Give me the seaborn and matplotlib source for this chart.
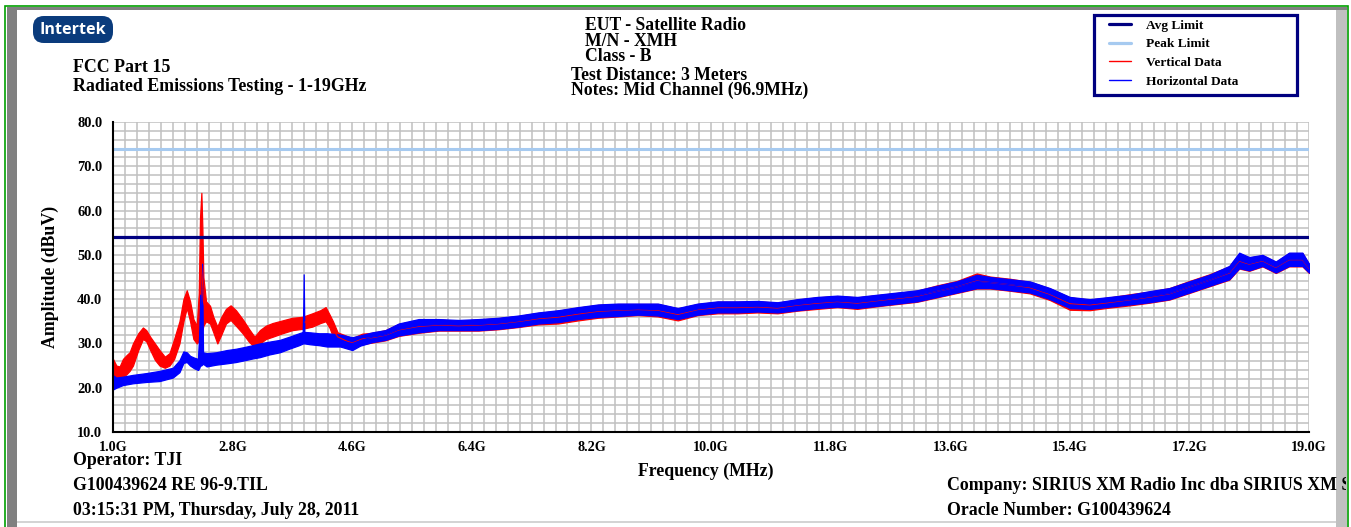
import numpy as np
import pandas as pd
import matplotlib
matplotlib.use("Agg")
import matplotlib.pyplot as plt
import seaborn as sns
from matplotlib.lines import Line2D
from matplotlib.patches import Rectangle, FancyBboxPatch
from matplotlib.ticker import FixedLocator, MultipleLocator
from matplotlib.transforms import Bbox

# ---------------------------------------------------------------- data
avg_limit_dbuv = 54.0
peak_limit_dbuv = 74.0
limit_span_ghz = [1.0, 19.0]

x_ticks_ghz = [1.0, 2.8, 4.6, 6.4, 8.2, 10.0, 11.8, 13.6, 15.4, 17.2, 19.0]
x_tick_labels = ["1.0G", "2.8G", "4.6G", "6.4G", "8.2G", "10.0G",
                 "11.8G", "13.6G", "15.4G", "17.2G", "19.0G"]
y_ticks_dbuv = [10, 20, 30, 40, 50, 60, 70, 80]
y_tick_labels = ["10.0", "20.0", "30.0", "40.0", "50.0", "60.0", "70.0", "80.0"]

# Vertical polarisation sweep: min / max envelope per frequency (GHz, dBuV)
vert_freq = [1.00, 1.05, 1.10, 1.15, 1.20, 1.25, 1.30, 1.38, 1.45, 1.50,
             1.56, 1.63, 1.70, 1.78, 1.85, 1.92, 2.00, 2.06, 2.11, 2.16,
             2.21, 2.26, 2.29, 2.31, 2.33, 2.345, 2.36, 2.40, 2.46, 2.51,
             2.57, 2.63, 2.70, 2.77, 2.85, 2.95, 3.05, 3.13, 3.21, 3.30,
             3.40, 3.55, 3.70, 3.85, 4.00, 4.12, 4.20, 4.26, 4.31, 4.38,
             4.50, 4.60, 4.75, 4.90, 5.10, 5.30, 5.60, 5.90, 6.20, 6.50,
             6.80, 7.10, 7.40, 7.70, 8.00, 8.30, 8.60, 8.90, 9.20, 9.50,
             9.80, 10.10, 10.40, 10.70, 11.00, 11.30, 11.60, 11.90, 12.20, 12.50,
             12.80, 13.10, 13.40, 13.70, 14.00, 14.20, 14.50, 14.80, 15.10, 15.40,
             15.70, 16.00, 16.30, 16.60, 16.90, 17.20, 17.50, 17.80, 17.95, 18.10,
             18.30, 18.50, 18.70, 18.90, 19.00]
vert_lo = [22.4, 22.5, 22.2, 22.5, 23.0, 23.8, 25.0, 28.5, 31.0, 30.5,
           28.5, 26.3, 25.0, 24.5, 25.0, 26.5, 30.0, 35.0, 38.0, 35.0,
           31.0, 30.0, 30.5, 31.0, 32.0, 33.0, 34.0, 35.0, 34.5, 32.5,
           30.0, 32.0, 34.5, 35.3, 34.0, 32.3, 30.3, 29.2, 30.0, 31.0,
           31.5, 32.3, 33.0, 33.3, 33.8, 34.6, 35.0, 33.5, 31.5, 30.5,
           29.5, 29.0, 29.8, 30.2, 30.7, 31.7, 32.4, 32.9, 32.9, 32.9,
           33.2, 33.7, 34.3, 34.5, 35.2, 35.8, 36.1, 36.4, 36.1, 35.2,
           36.4, 36.8, 36.8, 37.0, 36.8, 37.4, 37.8, 38.2, 37.8, 38.4,
           38.9, 39.4, 40.4, 41.4, 42.4, 42.4, 41.9, 41.3, 39.8, 37.6,
           37.5, 38.1, 38.6, 39.2, 39.9, 41.4, 42.9, 44.4, 46.9, 46.4,
           47.4, 45.9, 47.4, 47.4, 45.9]
vert_hi = [26.5, 25.0, 24.8, 26.5, 27.3, 28.0, 30.0, 32.3, 33.6, 33.0,
           31.5, 30.0, 28.5, 27.0, 27.8, 31.0, 35.0, 40.0, 42.0, 39.5,
           35.5, 34.0, 41.0, 58.5, 64.0, 56.0, 45.0, 39.5, 38.5, 36.0,
           33.8, 36.0, 37.8, 38.6, 37.5, 35.5, 33.2, 31.5, 33.0, 34.0,
           34.6, 35.2, 35.8, 36.0, 36.8, 37.5, 38.2, 36.5, 35.0, 32.5,
           31.8, 31.2, 32.2, 32.4, 33.0, 34.4, 35.3, 35.4, 35.1, 35.4,
           35.7, 36.2, 36.9, 37.4, 38.1, 38.7, 38.9, 38.9, 38.9, 37.9,
           38.9, 39.4, 39.4, 39.5, 39.2, 39.9, 40.4, 40.7, 40.4, 40.9,
           41.4, 41.9, 43.1, 44.1, 45.8, 45.1, 44.6, 43.9, 42.4, 40.4,
           39.9, 40.4, 41.1, 41.7, 42.5, 44.1, 45.6, 47.4, 50.3, 49.4,
           49.9, 48.4, 50.4, 50.4, 47.9]

# Horizontal polarisation sweep: min / max envelope per frequency (GHz, dBuV)
horiz_freq = [1.00, 1.05, 1.15, 1.30, 1.50, 1.70, 1.90, 2.00, 2.06, 2.11,
              2.16, 2.22, 2.28, 2.30, 2.31, 2.325, 2.34, 2.355, 2.41, 2.55,
              2.71, 2.85, 2.98, 3.10, 3.21, 3.35, 3.51, 3.65, 3.80, 3.86,
              3.87, 3.88, 3.97, 4.10, 4.22, 4.42, 4.60, 4.72, 4.90, 5.10,
              5.30, 5.60, 5.90, 6.20, 6.50, 6.80, 7.10, 7.40, 7.70, 8.00,
              8.30, 8.60, 8.90, 9.20, 9.50, 9.80, 10.10, 10.40, 10.70, 11.00,
              11.30, 11.60, 11.90, 12.20, 12.50, 12.80, 13.10, 13.40, 13.70, 14.00,
              14.20, 14.50, 14.80, 15.10, 15.40, 15.70, 16.00, 16.30, 16.60, 16.90,
              17.20, 17.50, 17.80, 17.95, 18.10, 18.30, 18.50, 18.70, 18.90, 19.00]
horiz_lo = [19.6, 20.0, 20.6, 21.0, 21.3, 21.5, 22.3, 23.5, 25.6, 25.8,
            25.0, 24.4, 24.0, 24.5, 25.0, 25.0, 25.2, 25.4, 24.8, 25.2,
            25.5, 25.8, 26.2, 26.6, 26.9, 27.5, 28.0, 28.8, 29.6, 30.0,
            30.0, 30.0, 29.8, 29.6, 29.3, 29.3, 28.5, 29.5, 30.3, 30.8,
            31.8, 32.5, 33.0, 33.0, 33.0, 33.3, 33.8, 34.5, 34.8, 35.5,
            36.0, 36.2, 36.5, 36.3, 35.5, 36.5, 37.0, 37.0, 37.2, 37.0,
            37.5, 38.0, 38.3, 38.0, 38.5, 39.0, 39.5, 40.5, 41.5, 42.5,
            42.5, 42.0, 41.5, 40.0, 38.0, 37.8, 38.3, 38.8, 39.3, 40.0,
            41.5, 43.0, 44.5, 47.0, 46.5, 47.5, 46.0, 47.5, 47.5, 46.0]
horiz_hi = [22.8, 22.3, 22.5, 22.9, 23.3, 23.8, 24.5, 26.2, 28.2, 28.0,
            27.2, 26.8, 26.5, 33.0, 41.0, 30.0, 48.0, 28.0, 27.8, 28.0,
            28.5, 28.8, 29.2, 29.6, 30.0, 30.4, 30.8, 31.5, 32.3, 32.6,
            45.6, 32.6, 32.5, 32.3, 32.3, 32.0, 31.4, 31.8, 32.5, 33.0,
            34.5, 35.5, 35.5, 35.3, 35.5, 35.8, 36.3, 37.0, 37.5, 38.2,
            38.8, 39.0, 39.0, 39.0, 38.0, 39.0, 39.5, 39.5, 39.6, 39.3,
            40.0, 40.5, 40.8, 40.5, 41.0, 41.5, 42.0, 43.0, 44.0, 45.5,
            45.0, 44.5, 44.0, 42.5, 40.5, 40.0, 40.5, 41.0, 41.8, 42.5,
            44.0, 45.5, 47.5, 50.5, 49.5, 50.0, 48.5, 50.5, 50.5, 48.0]

legend_labels = ["Avg Limit", "Peak Limit", "Vertical Data", "Horizontal Data"]

# ---------------------------------------------------------------- style
W, H = 1351, 527
SERIF = ["Liberation Serif", "DejaVu Serif"]
NAVY = "#000080"
PEAK_BLUE = "#a6caf0"
RED = "#ff0000"
BLUE = "#0000ff"

sns.set_theme(style="white")
plt.rcParams["font.family"] = SERIF
plt.rcParams["font.weight"] = "bold"

fig = plt.figure(figsize=(W / 100, H / 100), dpi=100)
fig.patch.set_facecolor("white")


def fx(px):
    return px / W


def fy(py):
    return 1 - py / H


ax = fig.add_axes([fx(113), fy(432), fx(1309) - fx(113), fy(122) - fy(432)])
ax.set_facecolor("white")


def envelope(freq, lo, hi):
    return pd.DataFrame({"freq": np.concatenate([freq, freq]),
                         "level": np.concatenate([lo, hi])})


# limit lines
sns.lineplot(x=limit_span_ghz, y=[peak_limit_dbuv] * 2, color=PEAK_BLUE,
             linewidth=2.2, ax=ax, zorder=3)
sns.lineplot(x=limit_span_ghz, y=[avg_limit_dbuv] * 2, color=NAVY,
             linewidth=2.3, ax=ax, zorder=3)

# measured sweeps drawn as min/max envelopes
sns.lineplot(data=envelope(vert_freq, vert_lo, vert_hi), x="freq", y="level",
             estimator="mean", errorbar=("pi", 100), color=RED, linewidth=0.8,
             err_kws={"alpha": 1, "linewidth": 0.9, "edgecolor": RED},
             ax=ax, zorder=4)
sns.lineplot(data=envelope(horiz_freq, horiz_lo, horiz_hi), x="freq", y="level",
             estimator="mean", errorbar=("pi", 100), color=BLUE, linewidth=0.8,
             err_kws={"alpha": 1, "linewidth": 0.9, "edgecolor": BLUE},
             ax=ax, zorder=5)

# axes, ticks and grid
ax.set_xlim(limit_span_ghz[0], limit_span_ghz[1])
ax.set_ylim(y_ticks_dbuv[0], y_ticks_dbuv[-1])
ax.xaxis.set_major_locator(FixedLocator(x_ticks_ghz))
ax.set_xticklabels(x_tick_labels, fontsize=10.2, fontweight="bold")
ax.xaxis.set_minor_locator(MultipleLocator(0.18, offset=1.0))
ax.yaxis.set_major_locator(FixedLocator(y_ticks_dbuv))
ax.set_yticklabels(y_tick_labels, fontsize=10.4, fontweight="bold")
ax.yaxis.set_minor_locator(MultipleLocator(2))
ax.grid(which="both", color="#c0c0c0", linewidth=1.1, zorder=0)
ax.set_axisbelow(True)

for side in ("top", "right"):
    ax.spines[side].set_visible(False)
for side in ("left", "bottom"):
    ax.spines[side].set_color("black")
    ax.spines[side].set_linewidth(1.5)
    ax.spines[side].set_zorder(6)

ax.tick_params(which="major", direction="inout", length=11, width=1.4,
               color="black", labelcolor="black")
ax.tick_params(which="minor", direction="inout", length=7, width=1.2,
               color="black")
ax.tick_params(axis="y", which="major", pad=2.3)
ax.tick_params(axis="x", which="major", pad=1.3)

ax.set_xlabel("Frequency (MHz)", fontsize=12.8, fontweight="bold",
              color="black")
ax.xaxis.set_label_coords(0.4955, -0.098)
ax.set_ylabel("Amplitude (dBuV)", fontsize=12.8, fontweight="bold",
              color="black")
ax.yaxis.set_label_coords(-0.045, 0.5)

# legend (entries inside a separately drawn navy box)
handles = [Line2D([], [], color=NAVY, linewidth=2.3),
           Line2D([], [], color=PEAK_BLUE, linewidth=2.3),
           Line2D([], [], color=RED, linewidth=1.0),
           Line2D([], [], color=BLUE, linewidth=1.0)]
leg = ax.legend(handles, legend_labels, loc="upper left",
                bbox_to_anchor=(fx(1109), fy(19.5)),
                bbox_transform=fig.transFigure,
                borderaxespad=0, borderpad=0, frameon=False,
                handlelength=1.65, handletextpad=1.1, labelspacing=0.47,
                prop={"family": SERIF, "weight": "bold", "size": 9.6})
leg.set_zorder(10)
for txt in leg.get_texts():
    txt.set_color("black")
fig.add_artist(Rectangle((fx(1094), fy(95)), fx(1297) - fx(1094), fy(15) - fy(95),
                         transform=fig.transFigure, facecolor="none",
                         edgecolor=NAVY, linewidth=2.3, zorder=9))


# header and footer text
def put(px, py, s, size, ha="left", z=3):
    return fig.text(fx(px), fy(py), s, fontsize=size, fontweight="bold",
                    family=SERIF, ha=ha, va="baseline", color="black",
                    zorder=z)


put(73, 72, "FCC Part 15", 12.9)
put(73, 91, "Radiated Emissions Testing - 1-19GHz", 12.9)
put(585, 30, "EUT - Satellite Radio", 12.7)
put(585, 46, "M/N - XMH", 12.7)
put(585, 61, "Class - B", 12.7)
put(571, 80, "Test Distance: 3 Meters", 12.7)
put(571, 95, "Notes: Mid Channel (96.9MHz)", 12.7)
put(73, 465, "Operator: TJI", 12.8)
put(73, 490, "G100439624 RE 96-9.TIL", 12.8)
put(73, 515, "03:15:31 PM, Thursday, July 28, 2011", 12.8)
company = put(947, 490, "Company: SIRIUS XM Radio Inc dba SIRIUS XM Satellite Radio",
              12.9, z=22)
company.set_clip_box(Bbox.from_extents(0, 0, 1346, H))
company.set_clip_on(True)
put(947, 515, "Oracle Number: G100439624", 12.8)

# logo badge
badge = FancyBboxPatch((fx(33), fy(43)), fx(113) - fx(33), fy(16) - fy(43),
                       boxstyle="round,pad=0,rounding_size=0.008",
                       transform=fig.transFigure, facecolor="#0a3b7c",
                       edgecolor="none", mutation_aspect=W / H)
fig.add_artist(badge)
fig.text(fx(73), fy(30), "Intertek", fontsize=11.6, fontweight="bold",
         family=["Open Sans", "DejaVu Sans"], color="white",
         ha="center", va="center")


# page frame
def frame_rect(x0, y0, x1, y1, color, z=20):
    fig.add_artist(Rectangle((fx(x0), fy(y1)), fx(x1) - fx(x0), fy(y0) - fy(y1),
                             transform=fig.transFigure, facecolor=color,
                             edgecolor="none", zorder=z))


frame_rect(1336, 10, 1347, 527, "#c0c0c0")
frame_rect(7, 7, 1347, 10, "#808080")
frame_rect(7, 7, 17, 527, "#808080")
frame_rect(17, 521, 1336, 523, "#d4d4d4")
fig.add_artist(Rectangle((fx(5.5), fy(530)), fx(1347.5) - fx(5.5), fy(5.5) - fy(530),
                         transform=fig.transFigure, facecolor="none",
                         edgecolor="#00a000", linewidth=1.2, zorder=23))

fig.savefig("out.png", dpi=100, facecolor="white")
